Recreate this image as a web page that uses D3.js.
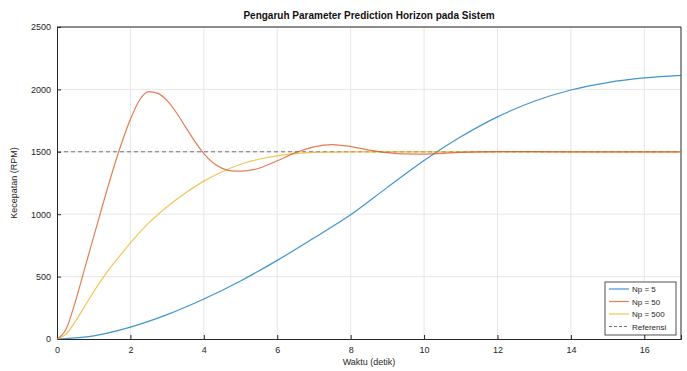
<!DOCTYPE html>
<html><head><meta charset="utf-8">
<script src="https://cdn.jsdelivr.net/npm/d3@7"></script>
<style>body{margin:0;background:#fff}svg{display:block}text{font-family:"Liberation Sans",Arial,sans-serif}</style>
</head><body><svg id="c" width="687" height="371"></svg>
<script>
const titleText = "Pengaruh Parameter Prediction Horizon pada Sistem";
const xLabel = "Waktu (detik)";
const yLabel = "Kecepatan (RPM)";
const xTicks = [0,2,4,6,8,10,12,14,16];
const yTicks = [0,500,1000,1500,2000,2500];
const seriesNames = ["Np = 5","Np = 50","Np = 500","Referensi"];
const refValue = 1500;

const tBlue = [0,1,2,3,4,5,6,7,8,9,10,11,12,13,14,15,16,17];
const vBlue = [0,25,95,195,320,465,630,810,995,1215,1430,1620,1780,1905,1995,2055,2092,2112];

const tRed = [0,0.25,0.5,0.75,1,1.25,1.5,1.75,2,2.25,2.5,2.75,3,3.25,3.5,3.75,4,4.25,4.5,4.75,5,5.5,6,6.5,7,7.5,8,8.5,9,9.5,10,10.5,11,12,13,14,17];
const vRed = [0,80,300,560,820,1080,1330,1560,1760,1915,1982,1968,1910,1815,1700,1585,1485,1412,1367,1347,1345,1368,1428,1493,1540,1558,1542,1514,1493,1483,1482,1488,1495,1502,1501,1500,1500];

const tYel = [0,0.25,0.5,0.75,1,1.25,1.5,1.75,2,2.5,3,3.5,4,4.5,5,5.5,6,6.5,7,8,17];
const vYel = [0,40,140,260,380,490,590,680,770,930,1060,1170,1265,1340,1400,1440,1468,1485,1495,1500,1500];

const svg = d3.select("#c");
const L=57,R=681,T=27,B=339;
const x = d3.scaleLinear().domain([0,17]).range([L,R]);
const y = d3.scaleLinear().domain([0,2500]).range([B,T]);

svg.append("g").selectAll("line").data(xTicks.slice(1)).join("line")
  .attr("x1",d=>x(d)).attr("x2",d=>x(d)).attr("y1",T).attr("y2",B)
  .attr("stroke","#e6e6e6").attr("stroke-width",1);
svg.append("g").selectAll("line").data(yTicks.slice(1)).join("line")
  .attr("x1",L).attr("x2",R).attr("y1",d=>y(d)).attr("y2",d=>y(d))
  .attr("stroke","#e6e6e6").attr("stroke-width",1);

const gx = svg.append("g").attr("transform",`translate(0,${B})`)
  .call(d3.axisBottom(x).tickValues(xTicks).tickSize(-4).tickPadding(8).tickFormat(d3.format("d")));
const gy = svg.append("g").attr("transform",`translate(${L},0)`)
  .call(d3.axisLeft(y).tickValues(yTicks).tickSize(-4).tickPadding(6).tickFormat(d3.format("d")));
[gx,gy].forEach(g=>{
  g.selectAll("path").attr("stroke","#262626");
  g.selectAll("line").attr("stroke","#262626");
  g.selectAll("text").attr("fill","#262626").attr("font-size",9);
});
svg.append("line").attr("x1",L).attr("x2",R).attr("y1",T).attr("y2",T).attr("stroke","#262626");
svg.append("line").attr("x1",R).attr("x2",R).attr("y1",T).attr("y2",B).attr("stroke","#262626");

const line = d3.line().x(d=>x(d[0])).y(d=>y(d[1])).curve(d3.curveMonotoneX);
const colors = ["#0072BD","#D95319","#EDB120","#404040"];
svg.append("line").attr("x1",x(0)).attr("x2",x(17)).attr("y1",y(refValue)).attr("y2",y(refValue))
  .attr("stroke",colors[3]).attr("stroke-width",1).attr("stroke-dasharray","4,3").attr("opacity",0.7);
svg.append("path").attr("d",line(d3.zip(tBlue,vBlue))).attr("fill","none").attr("stroke",colors[0]).attr("stroke-width",1.2).attr("opacity",0.75);
svg.append("path").attr("d",line(d3.zip(tYel,vYel))).attr("fill","none").attr("stroke",colors[2]).attr("stroke-width",1.2).attr("opacity",0.75);
svg.append("path").attr("d",line(d3.zip(tRed,vRed))).attr("fill","none").attr("stroke",colors[1]).attr("stroke-width",1.2).attr("opacity",0.75);

svg.append("text").attr("x",(L+R)/2).attr("y",19).attr("text-anchor","middle")
  .attr("font-size",10).attr("font-weight","bold").attr("fill","#111").text(titleText);
svg.append("text").attr("x",(L+R)/2).attr("y",365).attr("text-anchor","middle")
  .attr("font-size",9).attr("fill","#262626").text(xLabel);
svg.append("text").attr("transform",`translate(17,${(T+B)/2}) rotate(-90)`).attr("text-anchor","middle")
  .attr("font-size",9).attr("fill","#262626").text(yLabel);

const lg = svg.append("g");
lg.append("rect").attr("x",605).attr("y",282).attr("width",71).attr("height",53)
  .attr("fill","#fff").attr("stroke","#262626").attr("stroke-width",0.8);
seriesNames.forEach((n,i)=>{
  const yy = 289 + i*12.5;
  lg.append("line").attr("x1",609).attr("x2",629).attr("y1",yy).attr("y2",yy)
    .attr("stroke",colors[i]).attr("stroke-width",1.2).attr("opacity",0.75)
    .attr("stroke-dasharray",i===3?"3,2":null);
  lg.append("text").attr("x",632).attr("y",yy+3).attr("font-size",8).attr("fill","#262626").text(n);
});
</script></body></html>
